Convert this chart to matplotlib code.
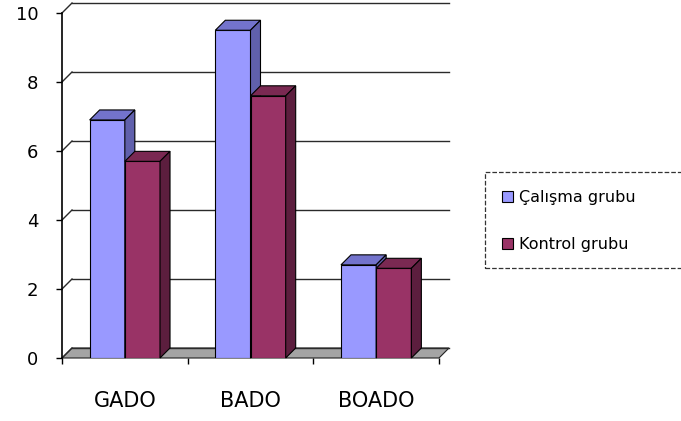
import matplotlib
matplotlib.use("Agg")
import matplotlib.pyplot as plt
from matplotlib.patches import Polygon, Rectangle

# ---- data ----
categories = ["GADO", "BADO", "BOADO"]
series_names = ["Çalışma grubu", "Kontrol grubu"]
calisma = [6.9, 9.5, 2.7]
kontrol = [5.7, 7.6, 2.6]
y_ticks = [0, 2, 4, 6, 8, 10]

# ---- styling ----
front_colors = ["#9999FF", "#993366"]
top_colors = ["#7373CC", "#7A2952"]
side_colors = ["#6060AC", "#5C1E3E"]
grid_color = "#2a2a2a"
bar_width = 0.28
depth_px = (10, 10)  # 3-D depth offset of the plot box, in pixels

W, H = 681, 421
fig = plt.figure(figsize=(W / 100, H / 100), dpi=100)
ax = fig.add_axes([62 / W, 63 / H, 377 / W, 345 / H])
ax.set_xlim(-0.5, 2.5)
ax.set_ylim(0, 10)

# convert the pixel depth offset into data units
p0 = ax.transData.transform((0, 0))
p1 = ax.transData.transform((1, 1))
ddx = depth_px[0] / (p1[0] - p0[0])
ddy = depth_px[1] / (p1[1] - p0[1])

x_lo, x_hi = ax.get_xlim()

# floor
floor = Polygon([(x_lo, 0), (x_hi, 0), (x_hi + ddx, ddy), (x_lo + ddx, ddy)],
                closed=True, facecolor="#A4A4A4", edgecolor="#222222",
                lw=0.8, zorder=1, clip_on=False)
ax.add_patch(floor)

# gridlines on back wall and side wall
for v in y_ticks:
    ax.plot([x_lo + ddx, x_hi + ddx], [v + ddy, v + ddy], color=grid_color,
            lw=1.0, zorder=1.5, clip_on=False)
    ax.plot([x_lo, x_lo + ddx], [v, v + ddy], color=grid_color,
            lw=1.0, zorder=1.5, clip_on=False)

# 3-D columns
containers = []
for s, vals in enumerate([calisma, kontrol]):
    xs = [i + (s - 0.5) * bar_width for i in range(len(categories))]
    bars = ax.bar(xs, vals, width=bar_width, color=front_colors[s],
                  edgecolor="black", lw=0.8, zorder=3 + s)
    containers.append(bars)
    for x, v in zip(xs, vals):
        x0, x1 = x - bar_width / 2, x + bar_width / 2
        top = Polygon([(x0, v), (x1, v), (x1 + ddx, v + ddy), (x0 + ddx, v + ddy)],
                      closed=True, facecolor=top_colors[s], edgecolor="black",
                      lw=0.8, zorder=3 + s, clip_on=False)
        side = Polygon([(x1, 0), (x1 + ddx, ddy), (x1 + ddx, v + ddy), (x1, v)],
                       closed=True, facecolor=side_colors[s], edgecolor="black",
                       lw=0.8, zorder=3 + s, clip_on=False)
        ax.add_patch(top)
        ax.add_patch(side)

# axes and ticks
for sp in ["top", "right", "bottom"]:
    ax.spines[sp].set_visible(False)
ax.spines["left"].set_color("black")
ax.spines["left"].set_linewidth(1.2)
ax.spines["left"].set_zorder(2)

ax.set_yticks(y_ticks)
ax.tick_params(axis="y", length=4, width=1, pad=13, labelsize=13,
               direction="out", colors="black")
ax.set_xticks(range(len(categories)), categories)
ax.tick_params(axis="x", which="major", length=0, pad=24, labelsize=15)
ax.set_xticks([x_lo + i for i in range(len(categories) + 1)], minor=True)
ax.tick_params(axis="x", which="minor", length=4, width=1, direction="out")

# legend
legend_box = Rectangle((485 / W, 1 - 268 / H), (700 - 485) / W, (268 - 172) / H,
                       transform=fig.transFigure, fill=False, linestyle="--",
                       edgecolor="#333333", lw=0.9)
fig.patches.append(legend_box)
fig.legend(containers, series_names, loc="center left",
           bbox_to_anchor=(485 / W, 1 - 221 / H), frameon=False, fontsize=11.5,
           handlelength=0.7, handleheight=0.7, handletextpad=0.35,
           labelspacing=2.0, borderpad=1.05, borderaxespad=0)

fig.savefig("out.png", dpi=100)
